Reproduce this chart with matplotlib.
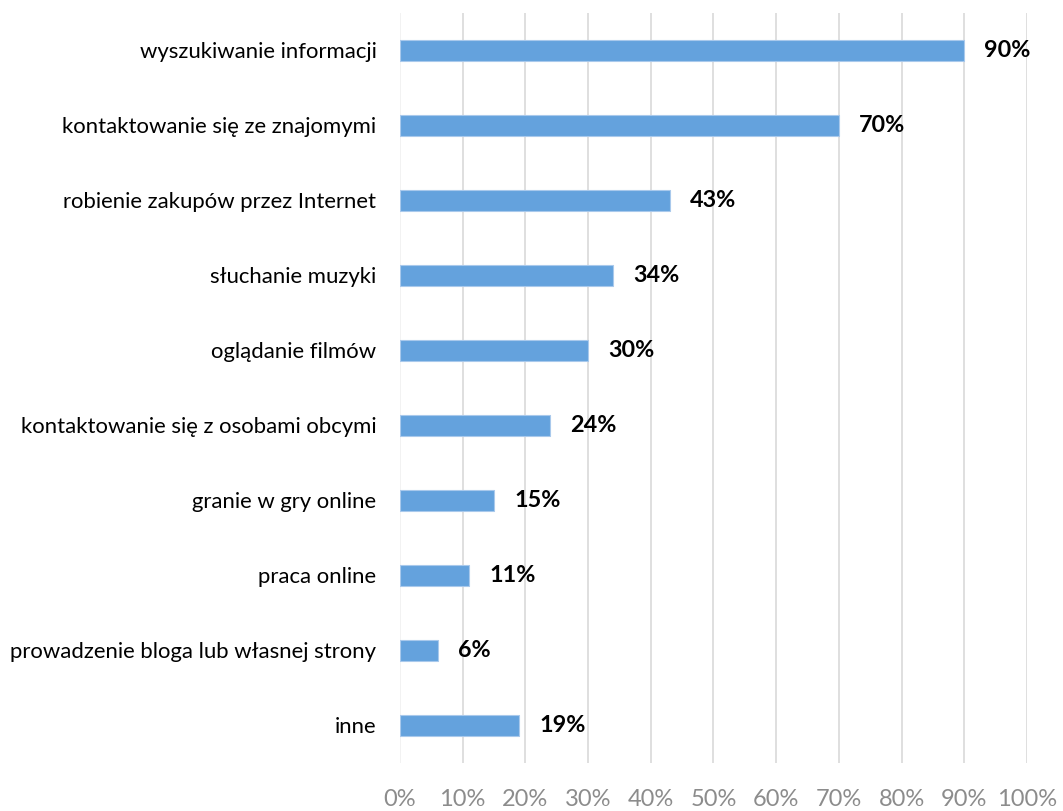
import matplotlib
matplotlib.use("Agg")
import matplotlib.pyplot as plt
import numpy as np

categories = [
    "wyszukiwanie informacji",
    "kontaktowanie się ze znajomymi",
    "robienie zakupów przez Internet",
    "słuchanie muzyki",
    "oglądanie filmów",
    "kontaktowanie się z osobami obcymi",
    "granie w gry online",
    "praca online",
    "prowadzenie bloga lub własnej strony",
    "inne",
]
values = [90, 70, 43, 34, 30, 24, 15, 11, 6, 19]
tick_values = list(range(0, 101, 10))
tick_labels = [f"{t}%" for t in tick_values]

plt.rcParams['font.family'] = ['Lato', 'DejaVu Sans']

fig = plt.figure(figsize=(10.63, 8.11), dpi=100)
ax = fig.add_axes([0.3763, 0.0592, 0.5898, 0.9248])

y = np.arange(len(categories))
ax.barh(y, values, height=0.29, color='#64a2dd', edgecolor='#a9c9ec', linewidth=0.8, zorder=3)

for yi, v in zip(y, values):
    ax.annotate(f"{v}%", (v, yi), xytext=(20, 0), textcoords='offset pixels',
                ha='left', va='center', fontsize=16.8, fontweight='bold', color='black')

ax.set_xlim(0, 100)
ax.set_ylim(len(categories) - 0.5, -0.5)
ax.set_xticks(tick_values)
ax.set_xticklabels(tick_labels, fontsize=17, color='#8c8c8c')
ax.set_yticks(y)
ax.set_yticklabels(categories, fontsize=15.9, color='black')
ax.tick_params(axis='x', length=0, pad=19)
ax.tick_params(axis='y', length=0, pad=17)

ax.grid(axis='x', color='#d9d9d9', linewidth=1.2, zorder=0)
ax.get_xgridlines()[0].set_color('#f0f0f0')
for s in ax.spines.values():
    s.set_visible(False)

fig.savefig("out.png", dpi=100)
